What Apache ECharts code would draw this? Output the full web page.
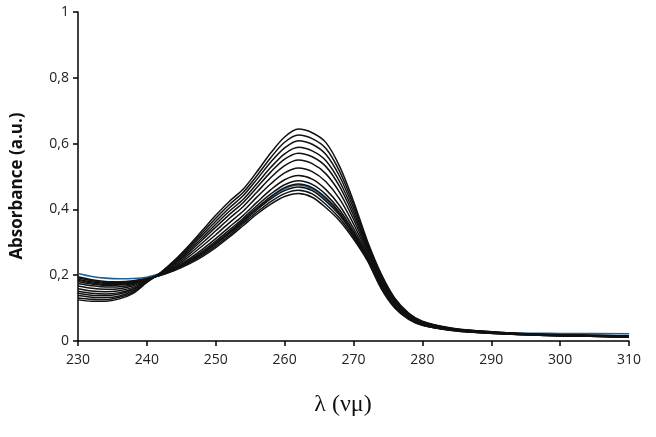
<!DOCTYPE html>
<html>
<head>
<meta charset="utf-8">
<script src="https://cdn.jsdelivr.net/npm/echarts@6/dist/echarts.min.js"></script>
<style>html,body{margin:0;padding:0;background:#fff}#c{width:656px;height:437px}</style>
</head>
<body>
<div id="c"></div>
<script>
const wavelengths = [230,232,234,236,238,240,242,244,246,248,250,252,254,256,258,260,262,264,266,268,270,272,274,276,278,280,284,288,294,300,310];
const xTicks = [230,240,250,260,270,280,290,300,310];
const yTicks = [0,0.2,0.4,0.6,0.8,1];

const curve01 = [0.125,0.121,0.121,0.128,0.145,0.178,0.208,0.245,0.288,0.335,0.382,0.425,0.462,0.515,0.572,0.620,0.644,0.633,0.603,0.530,0.425,0.305,0.205,0.130,0.085,0.060,0.040,0.031,0.023,0.019,0.015];
const curve02 = [0.131,0.127,0.126,0.133,0.148,0.179,0.207,0.242,0.283,0.328,0.373,0.415,0.452,0.503,0.558,0.604,0.626,0.615,0.585,0.515,0.415,0.300,0.201,0.127,0.083,0.059,0.039,0.031,0.023,0.019,0.015];
const curve03 = [0.138,0.133,0.132,0.137,0.152,0.180,0.207,0.239,0.278,0.321,0.364,0.405,0.442,0.492,0.544,0.587,0.609,0.598,0.567,0.500,0.404,0.294,0.197,0.125,0.082,0.058,0.039,0.030,0.022,0.018,0.015];
const curve04 = [0.145,0.139,0.138,0.143,0.156,0.181,0.206,0.236,0.273,0.313,0.355,0.395,0.431,0.479,0.528,0.569,0.589,0.578,0.548,0.484,0.393,0.288,0.192,0.122,0.080,0.057,0.038,0.030,0.022,0.018,0.014];
const curve05 = [0.151,0.145,0.143,0.147,0.159,0.182,0.205,0.234,0.268,0.306,0.346,0.385,0.421,0.467,0.514,0.553,0.571,0.560,0.530,0.469,0.382,0.283,0.188,0.119,0.078,0.056,0.037,0.029,0.022,0.018,0.014];
const curve06 = [0.159,0.152,0.150,0.153,0.163,0.184,0.204,0.230,0.262,0.297,0.335,0.373,0.409,0.453,0.497,0.533,0.550,0.539,0.508,0.451,0.370,0.276,0.183,0.116,0.076,0.054,0.037,0.029,0.022,0.018,0.014];
const curve07 = [0.167,0.160,0.157,0.159,0.168,0.185,0.203,0.226,0.255,0.288,0.323,0.360,0.395,0.438,0.478,0.511,0.526,0.515,0.484,0.431,0.356,0.269,0.178,0.112,0.074,0.053,0.036,0.028,0.021,0.017,0.013];
const curve08 = [0.175,0.168,0.164,0.165,0.172,0.187,0.202,0.223,0.248,0.278,0.311,0.347,0.382,0.422,0.460,0.490,0.503,0.492,0.460,0.411,0.342,0.262,0.173,0.108,0.071,0.051,0.035,0.027,0.021,0.017,0.013];
const curve09 = [0.181,0.173,0.169,0.170,0.175,0.188,0.202,0.220,0.244,0.272,0.304,0.338,0.373,0.412,0.447,0.475,0.487,0.476,0.445,0.398,0.333,0.257,0.169,0.106,0.070,0.050,0.034,0.027,0.021,0.017,0.013];
const curve10 = [0.185,0.176,0.172,0.172,0.177,0.188,0.201,0.219,0.241,0.268,0.299,0.332,0.368,0.405,0.439,0.466,0.477,0.466,0.435,0.390,0.327,0.254,0.167,0.105,0.069,0.050,0.034,0.027,0.020,0.016,0.012];
const curve11 = [0.188,0.180,0.175,0.175,0.179,0.189,0.201,0.217,0.239,0.264,0.294,0.327,0.362,0.399,0.432,0.457,0.468,0.457,0.425,0.382,0.322,0.251,0.165,0.103,0.068,0.049,0.034,0.026,0.020,0.016,0.012];
const curve12 = [0.192,0.183,0.178,0.177,0.181,0.189,0.200,0.216,0.236,0.260,0.289,0.321,0.357,0.392,0.424,0.448,0.458,0.447,0.415,0.373,0.316,0.248,0.162,0.102,0.067,0.048,0.033,0.026,0.020,0.016,0.012];
const curve13 = [0.195,0.186,0.181,0.180,0.183,0.190,0.200,0.214,0.233,0.256,0.284,0.316,0.351,0.386,0.416,0.439,0.448,0.437,0.405,0.365,0.310,0.245,0.160,0.100,0.066,0.048,0.033,0.026,0.020,0.016,0.012];
const curveBlue = [0.205,0.196,0.191,0.189,0.190,0.194,0.205,0.219,0.241,0.266,0.297,0.330,0.366,0.403,0.436,0.463,0.474,0.463,0.431,0.387,0.325,0.253,0.166,0.104,0.068,0.049,0.034,0.028,0.024,0.023,0.022];

const blackCurves = [curve01,curve02,curve03,curve04,curve05,curve06,curve07,curve08,curve09,curve10,curve11,curve12,curve13];

const series = [];
series.push({
  type:'line', data: wavelengths.map((w,i)=>[w,curveBlue[i]]), smooth:0.3, showSymbol:false,
  lineStyle:{color:'#1f5f95', width:1.6}, z:2, silent:true
});
blackCurves.forEach(c=>{
  series.push({
    type:'line', data: wavelengths.map((w,i)=>[w,c[i]]), smooth:0.3, showSymbol:false,
    lineStyle:{color:'#111', width:1.5}, z:3, silent:true
  });
});

const chart = echarts.init(document.getElementById('c'), null, {renderer:'canvas'});
chart.setOption({
  animation:false,
  backgroundColor:'#fff',
  grid:{left:78, right:27, top:12, bottom:96, containLabel:false},
  xAxis:{
    type:'value', min:230, max:310, interval:10,
    axisLine:{show:true, onZero:false, lineStyle:{color:'#000', width:1.5}},
    axisTick:{show:true, inside:false, length:5, lineStyle:{color:'#000', width:1.5}},
    axisLabel:{color:'#222', fontSize:14, fontFamily:'Open Sans', margin:12,
      formatter:v=> xTicks.includes(v) ? String(v) : ''},
    splitLine:{show:false}
  },
  yAxis:{
    type:'value', min:0, max:1, interval:0.2,
    axisLine:{show:true, lineStyle:{color:'#000', width:1.5}},
    axisTick:{show:true, inside:false, length:5, lineStyle:{color:'#000', width:1.5}},
    axisLabel:{color:'#222', fontSize:14, fontFamily:'Open Sans', margin:9,
      formatter:v=>{ const t = yTicks.find(y=>Math.abs(y-v)<1e-9); return t===undefined ? '' : String(Math.round(t*10)/10).replace('.',','); }},
    splitLine:{show:false}
  },
  graphic:[
    {type:'text', x:343, y:405, style:{text:'λ (νμ)', font:'24px "Liberation Serif", serif', fill:'#111', textAlign:'center', textVerticalAlign:'middle'}},
    {type:'text', x:17, y:186, rotation:Math.PI/2, style:{text:'Absorbance (a.u.)', font:'bold 17px "Open Sans", sans-serif', fill:'#111', textAlign:'center', textVerticalAlign:'middle'}}
  ],
  series: series
});
</script>
</body>
</html>
